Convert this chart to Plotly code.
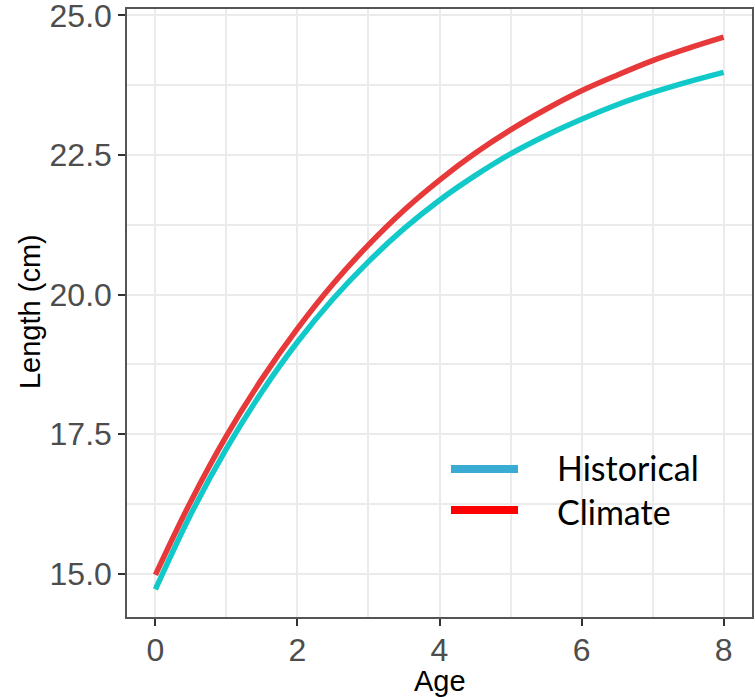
import plotly.graph_objects as go

age = [0, 0.5, 1, 1.5, 2, 2.5, 3, 3.5, 4, 4.5, 5, 5.5, 6, 6.5, 7, 7.5, 8]
historical = [14.72, 16.07, 17.24, 18.26, 19.15, 19.92, 20.59, 21.18, 21.69,
              22.13, 22.52, 22.85, 23.14, 23.40, 23.62, 23.81, 23.98]
climate = [14.98, 16.30, 17.47, 18.49, 19.39, 20.19, 20.89, 21.51, 22.05,
           22.53, 22.95, 23.32, 23.65, 23.93, 24.19, 24.41, 24.61]
x_ticks = [0, 2, 4, 6, 8]
y_ticks = [15.0, 17.5, 20.0, 22.5, 25.0]
y_tick_labels = ["15.0", "17.5", "20.0", "22.5", "25.0"]
legend_names = ["Historical", "Climate"]
x_title = "Age"
y_title = "Length (cm)"

fig = go.Figure()
fig.add_trace(go.Scatter(x=age, y=historical, mode="lines", name="Historical",
                         line=dict(color="#12C9C9", width=5.5, shape="spline"),
                         showlegend=False))
fig.add_trace(go.Scatter(x=age, y=climate, mode="lines", name="Climate",
                         line=dict(color="#E8393A", width=5.5, shape="spline"),
                         showlegend=False))

axis_common = dict(
    showline=True, linecolor="#555555", linewidth=1.5, mirror=True,
    showgrid=True, gridcolor="#EBEBEB", gridwidth=2,
    ticks="outside", ticklen=7, tickwidth=1.5, tickcolor="#333333",
    tickfont=dict(family="Liberation Sans, Arial", size=32, color="#4D4D4D"),
    zeroline=False, automargin=False, ticklabeloverflow="allow",
)

fig.update_xaxes(
    range=[-0.4, 8.4], tickvals=x_ticks, ticktext=[str(v) for v in x_ticks],
    minor=dict(dtick=1, tick0=0, showgrid=True, gridcolor="#EBEBEB", gridwidth=1.5, ticks=""),
    ticklabelstandoff=-3,
    **axis_common,
)
fig.update_yaxes(
    range=[14.225, 25.115], tickvals=y_ticks, ticktext=y_tick_labels,
    minor=dict(dtick=1.25, tick0=15, showgrid=True, gridcolor="#EBEBEB", gridwidth=1.5, ticks=""),
    **axis_common,
)

title_font = dict(family="Liberation Sans, Arial", size=29, color="#000000")
fig.add_annotation(xref="paper", yref="paper", x=0.5007, y=-0.106, text=x_title,
                   showarrow=False, xanchor="center", yanchor="middle", font=title_font)
fig.add_annotation(xref="paper", yref="paper", x=-0.1552, y=0.5016, text=y_title,
                   showarrow=False, xanchor="center", yanchor="middle", textangle=-90,
                   font=title_font)

legend_colors = ["#3AACD4", "#FF0000"]
legend_y = [0.2434, 0.176]
text_y = [0.2451, 0.1727]
for name, col, ly, ty in zip(legend_names, legend_colors, legend_y, text_y):
    fig.add_shape(type="line", xref="paper", yref="paper", x0=0.5184, x1=0.6256,
                  y0=ly, y1=ly, line=dict(color=col, width=8))
    fig.add_annotation(xref="paper", yref="paper", x=0.6848, y=ty, text=name,
                       showarrow=False, xanchor="left", yanchor="middle",
                       font=dict(family="Lato, Liberation Sans", size=34, color="#000000"))

fig.update_layout(
    width=755, height=697,
    margin=dict(l=127, r=3, t=9, b=80),
    plot_bgcolor="white", paper_bgcolor="white",
)

fig.write_html("out.html", config={"displayModeBar": False},
               post_script="document.body.style.margin='0px';")
